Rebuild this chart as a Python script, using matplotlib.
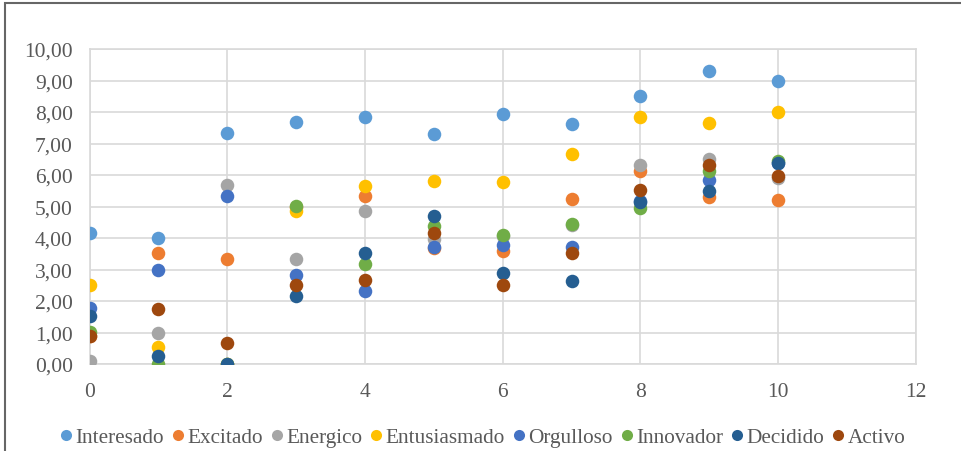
import matplotlib.pyplot as plt
from matplotlib.patches import Rectangle
from matplotlib.lines import Line2D

plt.rcParams['font.family'] = ['Liberation Serif', 'DejaVu Serif']

x = [0, 1, 2, 3, 4, 5, 6, 7, 8, 9, 10]

interesado   = [4.15, 4.00, 7.34, 7.67, 7.84, 7.31, 7.95, 7.63, 8.52, 9.29, 8.97]
excitado     = [0.88, 3.52, 3.34, 5.00, 5.33, 3.68, 3.59, 5.25, 6.12, 5.29, 5.22]
energico     = [0.10, 1.00, 5.67, 3.34, 4.85, 3.98, 4.06, 4.40, 6.33, 6.51, 5.92]
entusiasmado = [2.50, 0.53, 0.00, 4.85, 5.66, 5.81, 5.78, 6.68, 7.84, 7.65, 8.00]
orgulloso    = [1.77, 2.98, 5.32, 2.84, 2.32, 3.71, 3.79, 3.71, 5.17, 5.83, 6.37]
innovador    = [1.02, 0.00, 0.00, 5.01, 3.17, 4.38, 4.08, 4.45, 4.94, 6.12, 6.46]
decidido     = [1.51, 0.26, 0.00, 2.16, 3.51, 4.69, 2.90, 2.64, 5.15, 5.48, 6.37]
activo       = [0.88, 1.76, 0.66, 2.50, 2.66, 4.15, 2.50, 3.51, 5.51, 6.31, 5.98]

names = ["Interesado", "Excitado", "Energico", "Entusiasmado",
         "Orgulloso", "Innovador", "Decidido", "Activo"]
series = [interesado, excitado, energico, entusiasmado,
          orgulloso, innovador, decidido, activo]
colors = ["#5B9BD5", "#ED7D31", "#A5A5A5", "#FFC000",
          "#4472C4", "#70AD47", "#255E91", "#9E480E"]

fig = plt.figure(figsize=(9.62, 4.52), dpi=100)
ax = fig.add_axes([89.5 / 962, 1 - 365 / 452, 826.5 / 962, 315 / 452])

# marco exterior del gráfico (arriba e izquierda)
fig.patches.append(Rectangle((5 / 962, -0.1), 1.2, 1.1 - 4 / 452,
                             transform=fig.transFigure, fill=False,
                             edgecolor="#666666", linewidth=1.5))

for name, vals, c in zip(names, series, colors):
    ax.scatter(x, vals, s=95, color=c, label=name, zorder=3, linewidths=0)

ax.set_xlim(0, 12)
ax.set_ylim(0, 10)
ax.set_xticks(range(0, 13, 2))
ax.set_yticks(range(0, 11))
ax.set_yticklabels([f"{v},00" for v in range(0, 11)])

ax.grid(True, color="#D9D9D9", linewidth=1.2, zorder=0)
for s in ["top", "right", "left", "bottom"]:
    ax.spines[s].set_color("#D9D9D9")
    ax.spines[s].set_linewidth(1.2)
ax.tick_params(length=0, labelsize=15.5, colors="#595959")
ax.tick_params(axis="x", pad=13)
ax.tick_params(axis="y", pad=12)

handles = [Line2D([], [], marker="o", linestyle="", markersize=8,
                  markerfacecolor=c, markeredgewidth=0) for c in colors]
fig.legend(handles, names, loc="center", bbox_to_anchor=(0.5, 1 - 438 / 452),
           ncol=8, frameon=False, fontsize=15.3, handletextpad=0.0,
           columnspacing=0.2, handlelength=0.9, labelcolor="#595959")

fig.savefig("out.png", dpi=100)
